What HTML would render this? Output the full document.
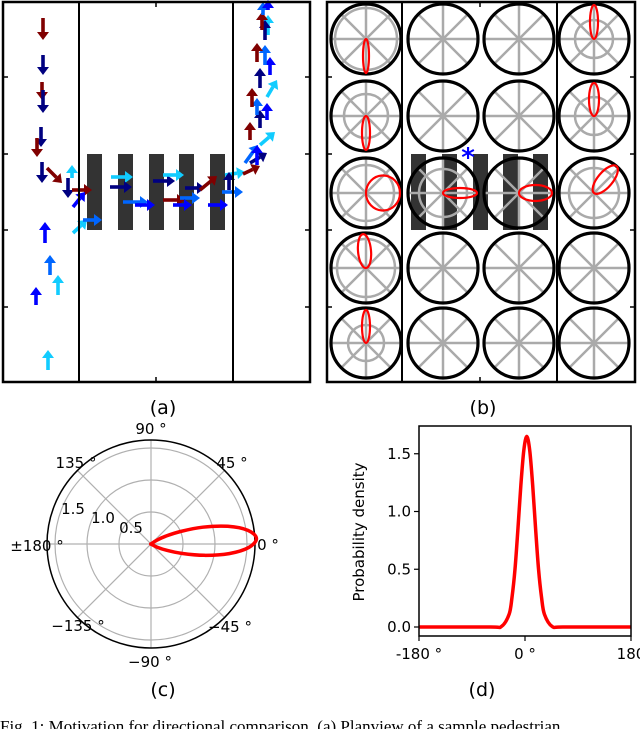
<!DOCTYPE html>
<html><head><meta charset="utf-8"><style>
html,body{margin:0;padding:0;background:#fff;width:640px;height:729px;overflow:hidden}
svg{display:block}
text{font-family:"DejaVu Sans","Liberation Sans",sans-serif;fill:#000}
.cap{font-family:"Liberation Serif",serif}
</style></head><body>
<svg id="fig" width="640" height="729" viewBox="0 0 640 729" xmlns="http://www.w3.org/2000/svg">
<g id="pa"></g>
<g id="pb"></g>
<g id="pc"></g>
<g id="pd"></g>
<text x="163" y="414" font-size="19" text-anchor="middle">(a)</text>
<text x="483" y="414" font-size="19" text-anchor="middle">(b)</text>
<text x="163" y="696" font-size="19" text-anchor="middle">(c)</text>
<text x="482" y="696" font-size="19" text-anchor="middle">(d)</text>
<text class="cap" x="0" y="732" font-size="17">Fig. 1: Motivation for directional comparison. (a) Planview of a sample pedestrian</text>
</svg>
<script>
// ---------- data: panel a arrows ----------
const arrowX0=[43,43,42,43,41,37,42,47,72,68,72,73,73,83,111,110,123,135,153,163,163,180,173,185,200,208,225,222,229,243,250,245,257,260,250,260,267,257,267,252,260,270,265,257,268,265,262,263,268,45,50,58,36,48];
const arrowY0=[18,55,82,90,127,138,162,168,178,178,190,207,233,220,177,187,202,205,181,175,200,198,205,188,190,205,175,192,190,174,163,163,165,145,140,128,120,115,97,107,88,75,65,62,35,40,30,15,10,243,275,295,305,370];
const arrowX1=[43,43,42,43,41,37,42,62,72,68,92,85,87,102,133,132,148,155,175,184,185,200,192,205,217,228,245,243,229,260,267,258,257,275,250,260,267,257,277,252,260,270,265,257,268,265,262,263,268,45,50,58,36,48];
const arrowY1=[40,75,100,113,147,157,183,183,165,198,190,192,220,220,177,187,202,205,181,175,200,198,205,188,176,205,172,192,172,166,153,145,145,132,122,110,103,98,80,88,68,57,45,43,15,20,12,2,0,222,255,275,287,350];
const arrowColorIdx=[1,0,1,0,0,1,0,1,4,0,1,2,4,3,4,0,3,2,0,4,1,3,2,0,1,2,4,3,0,1,0,3,2,4,1,0,2,3,4,1,0,2,3,1,4,0,1,3,2,2,3,4,2,4];
const arrowPalette=["#000080","#800000","#0000ff","#0066ff","#11ccff"];
// ---------- data: panel b cells ----------
const cellRing=[31,0,0,19, 22,0,0,19, 28,24,0,25, 29,0,0,0, 18,0,0,0];
const lobeDir=[270,null,null,90, 270,null,null,90, 0,0,0,50, 95,null,null,null, 90,null,null,null];
const lobeLen=[34,0,0,34, 34,0,0,33, 34,34,33,35, 34,0,0,0, 33,0,0,0];
const lobeWid=[6,0,0,8, 8,0,0,10, 35,10,16,15, 13,0,0,0, 8,0,0,0];
// ---------- data: panels c/d density ----------
const angleDeg=[-180,-60,-40,-27,-22,-17,-12,-7,-2,3,8,13,18,23,28,33,46,66,180];
const density=[0,0,0.005,0.11,0.26,0.5,0.85,1.23,1.53,1.65,1.53,1.23,0.85,0.5,0.26,0.11,0.005,0,0];
const polarRingVals=[0.5,1.0,1.5];
const polarAngleLabels=["0 °","45 °","90 °","135 °","±180 °","−135 °","−90 °","−45 °"];
const dYTicks=[0.0,0.5,1.0,1.5];
const dXTicks=[-180,0,180];
const dXLabels=["-180 °","0 °","180"];

const NS="http://www.w3.org/2000/svg";
function mk(parent,tag,attrs){const e=document.createElementNS(NS,tag);for(const k in attrs)e.setAttribute(k,attrs[k]);parent.appendChild(e);return e;}

// ---------- Panel A ----------
const pa=document.getElementById('pa');
const barsA=[87,118,149,179,210];
barsA.forEach((x,i)=>{const r=mk(pa,'rect',{x:x,y:154,width:15,height:76,fill:'#333'});

});
function arrow(g,x0,y0,x1,y1,c){
  const dx=x1-x0,dy=y1-y0,L=Math.hypot(dx,dy)||1,ux=dx/L,uy=dy/L,h=8,w=6;
  const bx=x1-ux*h,by=y1-uy*h;
  const grp=mk(g,'g',{});
  
  
  mk(grp,'line',{x1:x0,y1:y0,x2:bx,y2:by,stroke:c,'stroke-width':3.6});
  mk(grp,'polygon',{points:`${x1},${y1} ${bx-uy*w},${by+ux*w} ${bx+uy*w},${by-ux*w}`,fill:c});
}
for(let i=0;i<arrowX0.length;i++)arrow(pa,arrowX0[i],arrowY0[i],arrowX1[i],arrowY1[i],arrowPalette[arrowColorIdx[i]]);
function frame(g,x0,x1,v1,v2,topTick){
  [v1,v2].forEach(x=>{const l=mk(g,'line',{x1:x,y1:2,x2:x,y2:382,stroke:'#000','stroke-width':2});
  
  });
  [77,154,230,307].forEach(y=>{mk(g,'line',{x1:x0,y1:y,x2:x0+5,y2:y,stroke:'#000','stroke-width':1.5});mk(g,'line',{x1:x1-5,y1:y,x2:x1,y2:y,stroke:'#000','stroke-width':1.5});});
  mk(g,'line',{x1:topTick,y1:2,x2:topTick,y2:7,stroke:'#000','stroke-width':1.5});
  mk(g,'line',{x1:topTick,y1:377,x2:topTick,y2:382,stroke:'#000','stroke-width':1.5});
  const r=mk(g,'rect',{x:x0,y:2,width:x1-x0,height:380,fill:'none',stroke:'#000','stroke-width':2.5});
  
  
}
frame(pa,3,310,79,233,156);

// ---------- Panel B ----------
const pb=document.getElementById('pb');
[411,442,473,503,533].forEach(x=>{const r=mk(pb,'rect',{x:x,y:154,width:15,height:76,fill:'#333'});

});
const colX=[366,443,519,594],rowY=[39,116,193,268,343],R=35;
for(let i=0;i<20;i++){
  const cx=colX[i%4],cy=rowY[Math.floor(i/4)];
  const g=mk(pb,'g',{});
  
  
  for(let k=0;k<4;k++){const a=k*Math.PI/4;mk(g,'line',{x1:cx-R*Math.cos(a),y1:cy-R*Math.sin(a),x2:cx+R*Math.cos(a),y2:cy+R*Math.sin(a),stroke:'#aaa','stroke-width':2.5});}
  if(cellRing[i])mk(g,'circle',{cx:cx,cy:cy,r:cellRing[i],fill:'none',stroke:'#aaa','stroke-width':2.5});
  mk(g,'circle',{cx:cx,cy:cy,r:R,fill:'none',stroke:'#000','stroke-width':3.2});
  if(lobeDir[i]!==null){
    const a=lobeDir[i]*Math.PI/180,L=lobeLen[i],W=lobeWid[i];
    const ex=cx+Math.cos(a)*L/2,ey=cy-Math.sin(a)*L/2;
    const e=mk(g,'ellipse',{cx:ex,cy:ey,rx:L/2,ry:W/2,fill:'none',stroke:'#f00','stroke-width':2.2,transform:`rotate(${-lobeDir[i]} ${ex} ${ey})`});
    
    
  }
}
const star=mk(pb,'text',{x:468,y:166,'font-size':26,'text-anchor':'middle',style:'fill:#0000ff;font-weight:bold'});
star.textContent='*';


frame(pb,327,635,402,557,480);

// smooth path helper (Catmull-Rom)
function smooth(pts){let d=`M${pts[0][0]},${pts[0][1]}`;for(let i=0;i<pts.length-1;i++){const p0=pts[Math.max(0,i-1)],p1=pts[i],p2=pts[i+1],p3=pts[Math.min(pts.length-1,i+2)];
d+=` C${p1[0]+(p2[0]-p0[0])/6},${p1[1]+(p2[1]-p0[1])/6} ${p2[0]-(p3[0]-p1[0])/6},${p2[1]-(p3[1]-p1[1])/6} ${p2[0]},${p2[1]}`;}return d;}

// ---------- Panel C ----------
const pc=document.getElementById('pc');
const ccx=151,ccy=544,rs=64,rOuter=104;
const rr=v=>v*rs;
polarRingVals.forEach(v=>{const c=mk(pc,'circle',{cx:ccx,cy:ccy,r:rr(v),fill:'none',stroke:'#b0b0b0','stroke-width':1.2});

});
for(let k=0;k<4;k++){const a=k*Math.PI/4;mk(pc,'line',{x1:ccx-rOuter*Math.cos(a),y1:ccy-rOuter*Math.sin(a),x2:ccx+rOuter*Math.cos(a),y2:ccy+rOuter*Math.sin(a),stroke:'#b0b0b0','stroke-width':1.2});}
const oc=mk(pc,'circle',{cx:ccx,cy:ccy,r:rOuter,fill:'none',stroke:'#000','stroke-width':1.5});


const cpts=angleDeg.map((d,i)=>{const a=d*Math.PI/180;return [ccx+rr(density[i])*Math.cos(a),ccy-rr(density[i])*Math.sin(a)];});
const lobe=mk(pc,'path',{d:smooth(cpts),fill:'none',stroke:'#f00','stroke-width':3.5,'stroke-linejoin':'round'});


const labPos=[[268,550],[232,468],[151,434],[76,468],[37,551],[78,631],[150,667],[230,632]];
polarAngleLabels.forEach((t,i)=>{const e=mk(pc,'text',{x:labPos[i][0],y:labPos[i][1],'font-size':15,'text-anchor':'middle'});e.textContent=t;

});
const rlPos=[[131,533],[103,523],[73,514]];
polarRingVals.forEach((v,i)=>{const e=mk(pc,'text',{x:rlPos[i][0],y:rlPos[i][1],'font-size':15,'text-anchor':'middle'});e.textContent=v.toFixed(1);

});

// ---------- Panel D ----------
const pd=document.getElementById('pd');
const X0=419,X1=631,Y0=627,ys=115.5,Ytop=426,Ybot=636;
const xf=v=>X0+(v+180)/360*(X1-X0), yf=v=>Y0-v*ys;
const dpts=angleDeg.map((d,i)=>[xf(d),yf(density[i])]);
const curve=mk(pd,'path',{d:smooth(dpts),fill:'none',stroke:'#f00','stroke-width':3.5});


const box=mk(pd,'rect',{x:X0,y:Ytop,width:X1-X0,height:Ybot-Ytop,fill:'none',stroke:'#000','stroke-width':1.5});


dYTicks.forEach(v=>{mk(pd,'line',{x1:X0-5,y1:yf(v),x2:X0,y2:yf(v),stroke:'#000','stroke-width':1.2});
const t=mk(pd,'text',{x:X0-8,y:yf(v)+5,'font-size':15,'text-anchor':'end'});t.textContent=v.toFixed(1);

});
dXTicks.forEach((v,i)=>{mk(pd,'line',{x1:xf(v),y1:Ybot,x2:xf(v),y2:Ybot+5,stroke:'#000','stroke-width':1.2});
const t=mk(pd,'text',{x:xf(v),y:Ybot+23,'font-size':15,'text-anchor':'middle'});t.textContent=dXLabels[i];

});
const yl=mk(pd,'text',{x:364,y:532,'font-size':15,'text-anchor':'middle',transform:'rotate(-90 364 532)'});
yl.textContent='Probability density';


</script>
</body></html>
